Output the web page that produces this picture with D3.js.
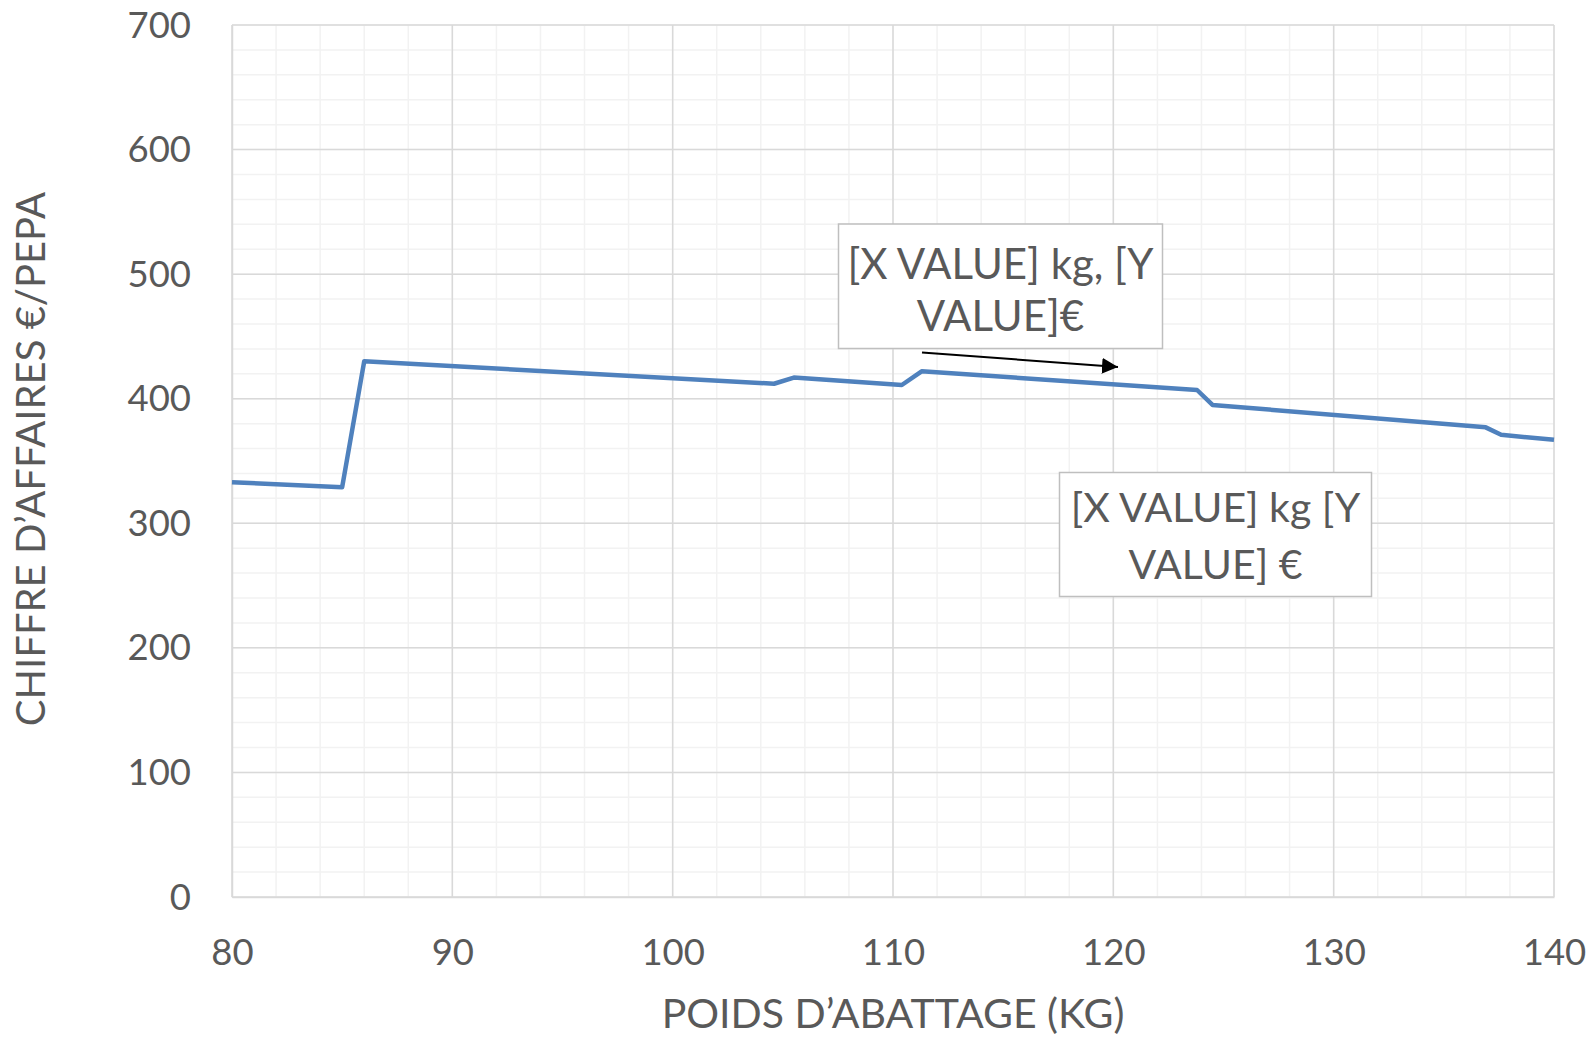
<!DOCTYPE html>
<html>
<head>
<meta charset="utf-8">
<script src="https://cdn.jsdelivr.net/npm/d3@7"></script>
<style>
  html, body { margin: 0; padding: 0; background: #ffffff; }
  svg { display: block; }
  text { font-family: Lato, "Open Sans", sans-serif; fill: #595959; }
</style>
</head>
<body>
<svg id="chart" width="1594" height="1039"></svg>
<script>
// ---- data ----
const weightKg   = [80, 85.0, 86.0, 104.6, 105.5, 110.4, 111.3, 123.8, 124.5, 136.9, 137.6, 140];
const revenueEur = [333, 329, 430, 412, 417, 411, 422, 407, 395, 377, 371, 367];
const xTicks = [80, 90, 100, 110, 120, 130, 140];
const yTicks = [0, 100, 200, 300, 400, 500, 600, 700];
const xMinorTicks = d3.range(80, 140.001, 2);
const yMinorTicks = d3.range(0, 700.001, 20);
const xTitle = "POIDS D\u2019ABATTAGE (KG)";
const yTitle = "CHIFFRE D\u2019AFFAIRES \u20ac/PEPA";
const label1Lines = ["[X VALUE] kg, [Y", "VALUE]\u20ac"];
const label2Lines = ["[X VALUE] kg [Y", "VALUE] \u20ac"];

// ---- layout ----
const plot = { left: 232, right: 1554, top: 25, bottom: 897 };
const svg = d3.select("#chart");

const x = d3.scaleLinear().domain([80, 140]).range([plot.left, plot.right]);
const y = d3.scaleLinear().domain([0, 700]).range([plot.bottom, plot.top]);

// minor grid
const g = svg.append("g");
g.selectAll("line.vminor").data(xMinorTicks).join("line")
  .attr("x1", d => x(d)).attr("x2", d => x(d))
  .attr("y1", plot.top).attr("y2", plot.bottom)
  .attr("stroke", "#f2f2f2").attr("stroke-width", 1.5);
g.selectAll("line.hminor").data(yMinorTicks).join("line")
  .attr("x1", plot.left).attr("x2", plot.right)
  .attr("y1", d => y(d)).attr("y2", d => y(d))
  .attr("stroke", "#f2f2f2").attr("stroke-width", 1.5);
// major grid
g.selectAll("line.vmajor").data(xTicks).join("line")
  .attr("x1", d => x(d)).attr("x2", d => x(d))
  .attr("y1", plot.top).attr("y2", plot.bottom)
  .attr("stroke", "#d9d9d9").attr("stroke-width", 1.5);
g.selectAll("line.hmajor").data(yTicks).join("line")
  .attr("x1", plot.left).attr("x2", plot.right)
  .attr("y1", d => y(d)).attr("y2", d => y(d))
  .attr("stroke", "#d9d9d9").attr("stroke-width", 1.5);

// axes (labels only)
const yAxis = svg.append("g")
  .attr("transform", `translate(${plot.left},0)`)
  .call(d3.axisLeft(y).tickValues(yTicks).tickSize(0).tickPadding(41));
yAxis.select(".domain").attr("stroke", "#d9d9d9").attr("stroke-width", 1.5);
yAxis.selectAll("text")
  .attr("font-family", "Lato, sans-serif").attr("font-size", 36.5)
  .attr("fill", "#595959").attr("dy", "0.33em");

const xAxis = svg.append("g")
  .attr("transform", `translate(0,${plot.bottom})`)
  .call(d3.axisBottom(x).tickValues(xTicks).tickSize(0).tickPadding(42));
xAxis.select(".domain").attr("stroke", "#d9d9d9").attr("stroke-width", 1.5);
xAxis.selectAll("text")
  .attr("font-family", "Lato, sans-serif").attr("font-size", 36.5)
  .attr("fill", "#595959");

// axis titles
svg.append("text")
  .attr("x", (plot.left + plot.right) / 2).attr("y", 1028)
  .attr("text-anchor", "middle").attr("font-size", 41)
  .text(xTitle);
svg.append("text")
  .attr("transform", `translate(45,${(plot.top + plot.bottom) / 2 - 2}) rotate(-90)`)
  .attr("text-anchor", "middle").attr("font-size", 40)
  .text(yTitle);

// line
const pts = weightKg.map((k, i) => [k, revenueEur[i]]);
svg.append("path")
  .datum(pts)
  .attr("fill", "none")
  .attr("stroke", "#4f81bd")
  .attr("stroke-width", 4.5)
  .attr("stroke-linejoin", "round")
  .attr("d", d3.line().x(d => x(d[0])).y(d => y(d[1])));

// annotations
const defs = svg.append("defs");
defs.append("marker")
  .attr("id", "arrow").attr("viewBox", "0 0 10 10")
  .attr("refX", 10).attr("refY", 5)
  .attr("markerWidth", 8).attr("markerHeight", 8)
  .attr("markerUnits", "strokeWidth")
  .attr("orient", "auto")
  .append("path").attr("d", "M0,0 L10,5 L0,10 Z").attr("fill", "#000");

svg.append("line")
  .attr("x1", 922).attr("y1", 352.5).attr("x2", 1118).attr("y2", 367)
  .attr("stroke", "#000").attr("stroke-width", 2)
  .attr("marker-end", "url(#arrow)");

function labelBox(x0, y0, x1, y1, lines, baselines, fs) {
  svg.append("rect")
    .attr("x", x0).attr("y", y0).attr("width", x1 - x0).attr("height", y1 - y0)
    .attr("fill", "#ffffff").attr("stroke", "#bfbfbf").attr("stroke-width", 1.5);
  lines.forEach((t, i) => {
    svg.append("text")
      .attr("x", (x0 + x1) / 2).attr("y", baselines[i])
      .attr("text-anchor", "middle").attr("font-size", fs)
      .text(t);
  });
}
labelBox(838.5, 224, 1162.5, 348.5, label1Lines, [278.5, 331], 42);
labelBox(1059.5, 472.5, 1371.5, 596.5, label2Lines, [521.5, 578.5], 41);
</script>
</body>
</html>
